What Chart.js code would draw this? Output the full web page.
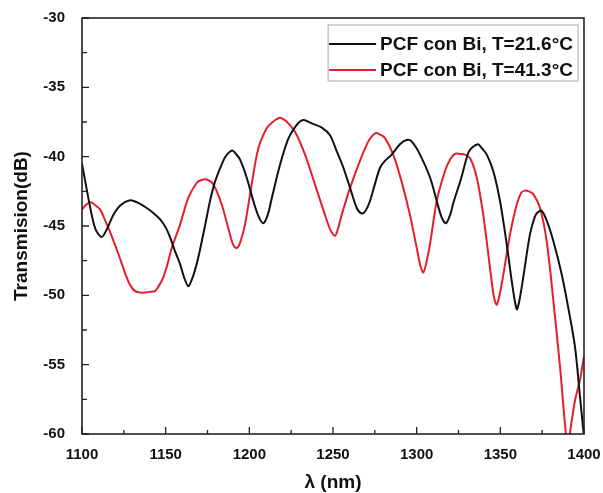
<!DOCTYPE html>
<html>
<head>
<meta charset="utf-8">
<script src="https://cdn.jsdelivr.net/npm/chart.js@4.4.0/dist/chart.umd.min.js"></script>
<style>
  html, body { margin: 0; padding: 0; background: #fff; }
  canvas { display: block; }
</style>
</head>
<body>
<canvas id="transChart" width="603" height="493"></canvas>
<script>
// wavelengths (nm) and transmission (dB)
const blackWl = [1100, 1104.8, 1108, 1111.8, 1115, 1118.7, 1123, 1128.7, 1133, 1138.7, 1143, 1146.6, 1150, 1152.6,
    1155.5, 1158.6, 1161, 1163.5, 1165.5, 1167.5, 1170, 1173.5, 1176.5, 1179.5, 1184.4, 1187, 1189.8, 1192,
    1194.4, 1198.4, 1202.4, 1205.5, 1208.4, 1211, 1213.4, 1218.3, 1223.3, 1228.3, 1232.3, 1237.3, 1243.3,
    1248.2, 1252.2, 1256.2, 1260.2, 1264.2, 1267.2, 1269.5, 1272.1, 1275, 1278.1, 1281, 1285.1, 1290, 1294,
    1297, 1302, 1308, 1312, 1315, 1317.5, 1320, 1322, 1326.5, 1330.9, 1333.5, 1336.8, 1339, 1341.9, 1345.8,
    1349.8, 1353.8, 1356.8, 1359.8, 1361.5, 1363.7, 1367.7, 1370.7, 1372.5, 1374.7, 1377.7, 1381.7, 1386.7,
    1390.6, 1394.6, 1397.6, 1399.8];
const blackDb = [-40.5, -43.6, -45.2, -45.8, -45.2, -44.2, -43.5, -43.15, -43.3, -43.7, -44.1, -44.5, -45.1, -45.8,
    -46.8, -47.75, -48.7, -49.35, -48.9, -48.2, -47.0, -45.0, -43.2, -41.8, -40.3, -39.8, -39.55, -39.8,
    -40.2, -41.5, -43.2, -44.3, -44.8, -44.2, -43.0, -40.6, -38.7, -37.7, -37.35, -37.6, -37.9,
    -38.45, -39.6, -40.8, -42.25, -43.7, -44.1, -43.9, -43.2, -42.0, -40.8, -40.3, -39.85, -39.1, -38.8,
    -38.9, -39.85, -41.5, -43.2, -44.4, -44.8, -44.2, -43.3, -41.6, -39.7, -39.3, -39.1, -39.4, -39.85, -41.05,
    -43.2, -46.3, -48.95, -51.0, -50.3, -48.7, -45.6, -44.3, -44.0, -43.9, -44.6, -46.1, -48.5,
    -50.9, -53.7, -57.3, -60.0];

const redWl = [1100, 1103, 1105.8, 1108, 1110.8, 1113.5, 1116.7, 1121.7, 1126.7, 1129, 1131.7, 1134.5, 1137.7,
    1140.5, 1143.6, 1146, 1148.6, 1151, 1153.6, 1158.6, 1163.5, 1168.5, 1171, 1174.5, 1178.5, 1183.5, 1188.4,
    1190.5, 1192.4, 1194.5, 1197.4, 1201.4, 1205.4, 1210.4, 1214, 1218.3, 1221, 1223.3, 1227.3, 1233.3, 1239.2,
    1245.2, 1248.5, 1251.2, 1253, 1255.2, 1260.2, 1266.1, 1271.1, 1273.5, 1275.7, 1278, 1281.1, 1286, 1291,
    1296, 1300.4, 1302.5, 1304, 1305.5, 1308, 1312, 1316.9, 1320, 1322.9, 1326, 1328.9, 1331.9, 1335.9,
    1339.8, 1343.8, 1346, 1347.8, 1349.5, 1351.8, 1355.8, 1359.8, 1362.5, 1364.7, 1367, 1369.7, 1373.7,
    1377.7, 1381.7, 1385.7, 1389.2, 1390.5, 1392, 1394.6, 1397.6, 1400];
const redDb = [-43.8, -43.4, -43.3, -43.5, -43.8, -44.5, -45.4, -47.0, -48.7, -49.3, -49.7, -49.8, -49.8,
    -49.75, -49.7, -49.3, -48.7, -47.8, -46.6, -44.9, -42.97, -41.9, -41.7, -41.65, -42.0, -43.45, -45.6,
    -46.4, -46.6, -46.2, -44.9, -42.0, -39.4, -37.95, -37.5, -37.2, -37.35, -37.6, -38.2, -39.85, -42.0,
    -44.2, -45.3, -45.7, -45.2, -44.2, -42.25, -40.3, -38.9, -38.5, -38.3, -38.4, -38.66, -39.85, -41.8,
    -44.2, -46.8, -48.0, -48.35, -47.8, -46.3, -43.2, -41.05, -40.2, -39.8, -39.8, -39.85, -40.1, -41.5,
    -44.2, -48.0, -50.0, -50.7, -50.0, -48.5, -45.6, -43.45, -42.6, -42.45, -42.5, -42.7, -43.7,
    -46.1, -50.4, -55.2, -60.0, -60.8, -59.6, -57.6, -56.1, -54.4];

const seriesLabels = ['PCF con Bi, T=21.6°C', 'PCF con Bi, T=41.3°C'];
const seriesColors = ['#111111', '#e6202a'];

const FONT = "'Liberation Sans', Arial, sans-serif";

function toPoints(xs, ys) {
    return xs.map(function (x, i) { return { x: x, y: ys[i] }; });
}

// box, inward tick marks and the legend inside the plot
const framePlugin = {
    id: 'framePlugin',
    afterDatasetsDraw: function (chart) {
        const ctx = chart.ctx;
        const a = chart.chartArea;
        const xs = chart.scales.x, ys = chart.scales.y;
        ctx.save();
        ctx.strokeStyle = '#222';
        ctx.lineWidth = 1.6;
        ctx.strokeRect(a.left, a.top, a.right - a.left, a.bottom - a.top);

        ctx.lineWidth = 1.3;
        ctx.beginPath();
        xs.ticks.forEach(function (t, i) {
            const px = xs.getPixelForValue(t.value);
            ctx.moveTo(px, a.bottom); ctx.lineTo(px, a.bottom - 7);
            if (i < xs.ticks.length - 1) {
                const mx = xs.getPixelForValue((t.value + xs.ticks[i + 1].value) / 2);
                ctx.moveTo(mx, a.bottom); ctx.lineTo(mx, a.bottom - 4);
            }
        });
        ys.ticks.forEach(function (t, i) {
            const py = ys.getPixelForValue(t.value);
            ctx.moveTo(a.left, py); ctx.lineTo(a.left + 7, py);
            if (i < ys.ticks.length - 1) {
                const my = ys.getPixelForValue((t.value + ys.ticks[i + 1].value) / 2);
                ctx.moveTo(a.left, my); ctx.lineTo(a.left + 5, my);
            }
        });
        ctx.stroke();

        // legend
        ctx.font = 'bold 19px ' + FONT;
        const textW = Math.max.apply(null, seriesLabels.map(function (s) { return ctx.measureText(s).width; }));
        const lineLen = 47, gap = 4, padL = 1, padR = 5;
        const boxW = padL + lineLen + gap + textW + padR;
        const boxR = a.right - 6, boxT = a.top + 7, boxH = 56;
        const boxL = boxR - boxW;
        ctx.fillStyle = '#fff';
        ctx.fillRect(boxL, boxT, boxW, boxH);
        ctx.strokeStyle = '#a8a8a8';
        ctx.lineWidth = 1;
        ctx.strokeRect(boxL, boxT, boxW, boxH);
        ctx.textBaseline = 'middle';
        ctx.textAlign = 'left';
        chart.data.datasets.forEach(function (ds, i) {
            const y = boxT + 19 + i * 26;
            ctx.strokeStyle = ds.borderColor;
            ctx.lineWidth = 2;
            ctx.beginPath();
            ctx.moveTo(boxL + padL, y);
            ctx.lineTo(boxL + padL + lineLen, y);
            ctx.stroke();
            ctx.fillStyle = '#111';
            ctx.fillText(ds.label, boxL + padL + lineLen + gap, y + 1);
        });
        ctx.restore();
    }
};

document.addEventListener('DOMContentLoaded', function () {
    const ctx = document.getElementById('transChart').getContext('2d');
    new Chart(ctx, {
        type: 'line',
        data: {
            datasets: [
                {
                    label: seriesLabels[0],
                    data: toPoints(blackWl, blackDb),
                    borderColor: seriesColors[0],
                    borderWidth: 2,
                    pointRadius: 0,
                    tension: 0.3,
                    fill: false
                },
                {
                    label: seriesLabels[1],
                    data: toPoints(redWl, redDb),
                    borderColor: seriesColors[1],
                    borderWidth: 2,
                    pointRadius: 0,
                    tension: 0.3,
                    fill: false
                }
            ]
        },
        options: {
            responsive: false,
            devicePixelRatio: 1,
            animation: false,
            layout: { padding: { top: 16, right: 19, left: 0, bottom: 0 } },
            plugins: {
                legend: { display: false },
                tooltip: { enabled: false }
            },
            scales: {
                x: {
                    type: 'linear',
                    min: 1100,
                    max: 1400,
                    grid: { display: false },
                    border: { display: false },
                    ticks: {
                        stepSize: 50,
                        padding: 4,
                        color: '#111',
                        maxRotation: 0,
                        font: { family: FONT, size: 15, weight: 'bold' },
                        callback: function (v) { return String(v); }
                    },
                    title: {
                        display: true,
                        text: 'λ (nm)',
                        color: '#111',
                        padding: { top: 0, bottom: 1 },
                        font: { family: FONT, size: 19, weight: 'bold', lineHeight: 1 }
                    },
                    afterFit: function (scale) {
                        scale.height = 59;
                        scale.paddingLeft = 0;
                        scale.paddingRight = 0;
                    }
                },
                y: {
                    min: -60,
                    max: -30,
                    grid: { display: false },
                    border: { display: false },
                    ticks: {
                        stepSize: 5,
                        padding: 9,
                        color: '#111',
                        font: { family: FONT, size: 15, weight: 'bold' }
                    },
                    title: {
                        display: true,
                        text: 'Transmision(dB)',
                        color: '#111',
                        padding: { top: 12, bottom: 0 },
                        font: { family: FONT, size: 19, weight: 'bold', lineHeight: 1 }
                    },
                    afterFit: function (scale) { scale.width = 82; }
                }
            }
        },
        plugins: [framePlugin]
    });
});
</script>
</body>
</html>
